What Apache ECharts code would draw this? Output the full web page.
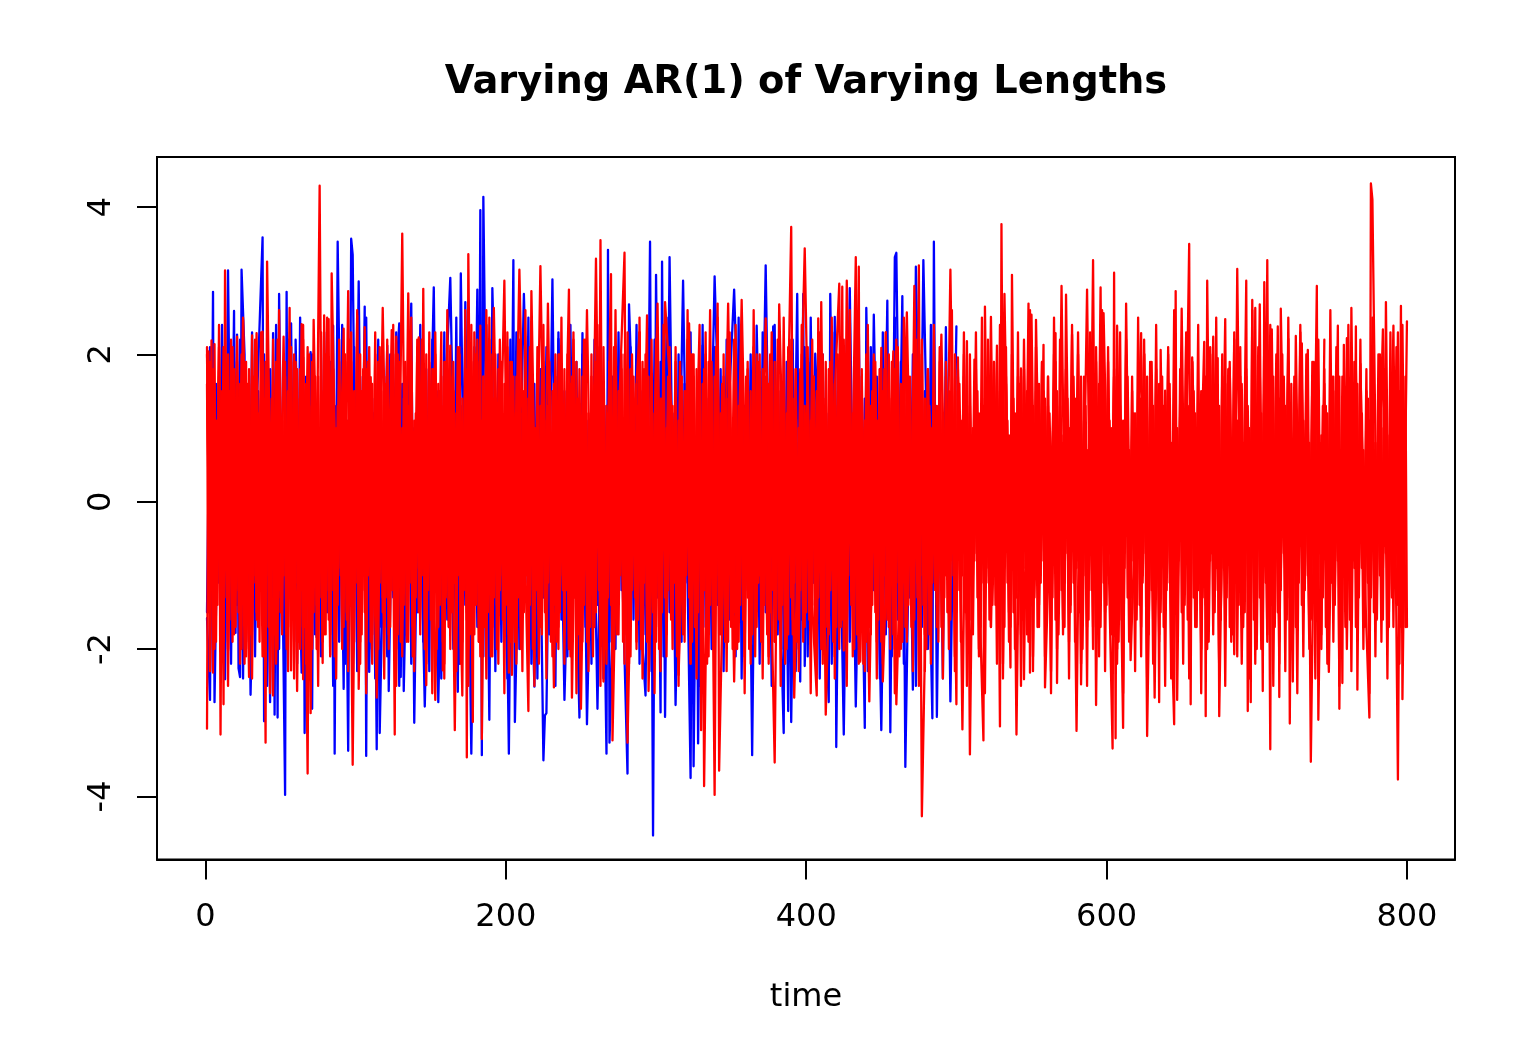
<!DOCTYPE html>
<html><head><meta charset="utf-8">
<script src="https://cdn.jsdelivr.net/npm/echarts@6/dist/echarts.min.js"></script>
<style>html,body{margin:0;padding:0;background:#fff}#c{width:1536px;height:1056px}</style>
</head><body><div id="c"></div>
<script>
const titleText = "Varying AR(1) of Varying Lengths";
const xName = "time";
const xTicks = [0,200,400,600,800];
const yTicks = [-4,-2,0,2,4];

// swings of the blue series, [time, value]
const bluePeaks = [[1,-1.58],[3,-2.69],[5,2.85],[6,-2.72],[9,1.1],[13,-2.41],[15,3.14],[17,-0.6],[19,2.59],[20,-1.78],[21,2.27],[22,-2.26],[23,-2.38],[24,3.15],[26,2.00],[27,-1.90],[28,1.0],[30,-2.62],[34,1.2],[38,3.59],[39,-2.98],[41,0.8],[43,-2.72],[45,2.29],[46,-2.89],[47,0.6],[48,-2.93],[49,2.82],[53,-3.98],[54,2.85],[55,-0.9],[57,2.42],[59,-1.90],[60,2.20],[64,-2.32],[65,1.96],[66,-3.14],[68,1.3],[70,2.03],[71,-2.81],[72,0.9],[74,-1.84],[78,1.2],[81,-1.0],[85,2.39],[86,-3.42],[88,3.53],[92,-2.54],[93,0.7],[95,-3.38],[97,3.57],[98,3.35],[100,-0.4],[102,2.99],[104,-0.8],[106,2.65],[107,-3.45],[108,0.5],[109,-2.31],[112,1.2],[114,-3.36],[115,0.3],[116,-3.14],[121,2.12],[122,-2.57],[125,1.0],[129,2.42],[130,-2.38],[131,0.2],[132,-2.57],[137,2.69],[139,-3.00],[142,1.3],[146,-2.78],[152,2.91],[155,-2.72],[159,1.1],[163,3.04],[168,-2.58],[170,3.10],[172,0.1],[173,2.71],[177,-3.42],[181,2.88],[182,-0.2],[183,3.96],[184,-3.44],[185,4.14],[189,-2.96],[191,2.90],[196,-1.3],[199,1.1],[202,-3.42],[205,3.28],[206,-2.99],[212,2.82],[219,-2.51],[222,0.9],[225,-3.51],[226,-2.9],[227,-2.87],[231,3.02],[233,-0.6],[235,2.21],[239,-2.69],[244,1.2],[249,-2.93],[251,2.29],[254,-3.02],[258,0.8],[261,-2.81],[264,0.9],[267,-3.42],[268,3.42],[269,-3.27],[275,1.1],[281,-3.69],[282,2.68],[288,-1.0],[293,-2.63],[296,3.53],[298,-4.53],[300,3.08],[303,-2.86],[304,3.26],[306,-2.92],[309,3.32],[313,-2.76],[318,3.00],[323,-3.75],[324,0.4],[325,-3.59],[327,0.2],[328,-3.28],[331,2.12],[335,-1.0],[339,3.06],[345,-1.3],[348,1.1],[352,2.88],[358,-1.2],[362,0.4],[364,-3.44],[367,2.39],[370,-0.6],[373,3.21],[376,-0.8],[378,2.38],[385,-3.14],[386,0.6],[388,-2.84],[389,0.3],[390,-2.99],[394,2.82],[396,-2.44],[398,2.82],[399,-2.23],[403,1.89],[404,-0.6],[406,2.01],[415,-2.72],[416,2.82],[418,-0.3],[419,2.51],[420,-3.33],[422,0.4],[425,-3.16],[429,2.90],[433,-2.78],[436,0.5],[439,-3.07],[440,2.63],[443,-0.9],[445,2.54],[450,-3.10],[454,2.73],[456,-3.13],[459,3.32],[460,3.38],[462,0.2],[464,2.79],[466,-3.60],[467,-3.60],[469,0.3],[471,-2.55],[473,3.19],[476,-0.1],[478,3.28],[484,-2.94],[485,3.53],[487,-2.92],[489,0.4],[491,-2.40],[493,2.37],[496,-2.71],[500,2.38]];

// swings of the red series, [time, value]
const redPeaks = [[1,-3.08],[2,2.04],[3,-0.5],[4,2.19],[5,-2.32],[6,2.14],[7,-1.0],[9,1.78],[10,-3.16],[11,0.4],[12,-2.75],[13,3.14],[15,-2.02],[18,2.10],[19,-0.8],[21,2.24],[23,-0.9],[25,2.47],[29,-2.38],[31,2.26],[32,-1.1],[34,2.29],[36,-0.6],[38,2.31],[40,-3.27],[41,3.26],[45,-2.63],[47,1.33],[49,-1.2],[52,2.24],[54,-0.7],[56,2.63],[57,-2.29],[59,0.6],[61,-2.57],[64,2.41],[65,-2.41],[66,0.2],[68,-3.69],[69,0.3],[70,-2.87],[72,2.47],[74,0.2],[76,4.29],[78,-2.19],[79,2.53],[81,-0.6],[82,2.48],[83,-2.08],[84,3.10],[88,-1.1],[92,2.35],[93,-0.5],[95,2.86],[98,-3.57],[101,2.53],[102,-2.54],[106,2.37],[108,-1.0],[110,1.69],[114,-2.66],[118,2.63],[121,-0.8],[124,2.33],[126,-3.16],[127,2.24],[129,0.1],[131,3.64],[133,-0.6],[135,2.83],[138,-1.2],[142,2.23],[144,-0.4],[145,2.89],[147,-2.49],[149,1.89],[153,-2.69],[157,2.30],[158,-2.29],[163,2.12],[166,-3.10],[168,0.7],[171,-2.63],[173,2.60],[174,-3.47],[175,3.36],[178,-2.99],[179,2.30],[181,-0.7],[183,2.39],[184,-3.22],[187,2.60],[189,-1.0],[192,2.63],[195,-0.9],[199,3.00],[202,-2.32],[203,0.5],[204,-2.35],[209,3.15],[215,-2.84],[217,2.86],[220,-0.7],[223,3.20],[226,-0.5],[228,2.69],[232,-2.52],[235,1.1],[238,-1.2],[242,2.88],[244,-2.66],[247,1.2],[250,-2.81],[254,2.60],[257,-1.0],[260,3.30],[262,0.1],[263,3.55],[265,-2.44],[270,3.09],[271,-3.24],[275,1.0],[279,3.38],[281,-3.27],[285,0.9],[289,2.30],[291,-1.0],[294,2.53],[295,-2.57],[301,2.69],[303,-0.8],[306,2.71],[311,1.0],[315,-2.35],[322,2.42],[325,-0.9],[329,2.40],[330,-3.10],[331,0.2],[332,-3.86],[336,2.60],[339,-3.98],[341,2.69],[342,-3.65],[345,-0.6],[348,2.69],[352,-2.44],[357,2.74],[361,-1.3],[365,1.6],[369,-1.0],[373,2.49],[379,-3.54],[382,2.68],[386,-0.8],[390,3.73],[392,-2.66],[399,3.44],[403,-1.0],[407,-2.63],[408,2.49],[409,-0.4],[410,2.71],[413,-2.89],[418,1.0],[422,2.96],[423,-0.1],[424,2.92],[425,-2.02],[427,3.00],[430,-0.5],[433,3.32],[434,0.4],[435,3.19],[436,-2.17],[439,1.1],[442,-2.71],[446,1.90],[448,-0.8],[450,2.09],[451,-2.44],[458,2.04],[460,-2.75],[467,2.57],[470,-0.7],[472,2.93],[474,0.3],[475,3.21],[477,-4.27],[482,1.3],[486,-1.2],[490,2.27],[493,-1.0],[496,3.15],[500,-2.75],[501,1.96],[504,-3.09],[507,2.18],[509,-3.43],[512,1.93],[515,-1.0],[518,-3.24],[519,2.65],[521,-0.6],[523,2.51],[525,-0.8],[527,2.12],[529,-3.05],[530,3.77],[531,0.4],[532,2.82],[536,-2.25],[537,3.08],[540,-3.16],[543,1.81],[545,-2.41],[548,2.69],[549,-2.32],[550,2.54],[552,-0.6],[553,2.47],[556,-1.1],[558,2.13],[559,-2.52],[566,2.29],[567,-2.46],[570,2.93],[572,-0.3],[573,2.81],[575,-0.4],[577,2.27],[580,-3.11],[582,0.5],[583,-2.48],[587,2.88],[589,-0.5],[591,3.28],[593,-2.76],[596,2.91],[597,0.2],[598,2.56],[604,-3.35],[605,3.11],[606,-3.21],[607,2.39],[611,-3.07],[613,2.69],[616,-2.15],[623,2.29],[624,-0.6],[625,2.01],[627,-3.18],[630,0.9],[632,-2.66],[634,0.7],[635,-2.72],[636,2.06],[638,-0.9],[639,1.51],[645,-3.02],[646,2.86],[647,-2.69],[650,2.62],[652,-0.7],[655,3.50],[656,-2.75],[657,1.96],[661,-1.2],[665,2.17],[666,-2.91],[667,3.00],[669,-0.8],[671,2.24],[673,-0.9],[674,1.95],[675,-2.91],[679,2.48],[680,-0.8],[682,1.82],[685,-2.07],[687,3.16],[690,-2.20],[693,3.00],[694,-2.84],[695,0.6],[696,-2.72],[697,2.74],[698,-0.4],[699,2.63],[700,-0.9],[702,2.68],[704,-2.57],[705,2.98],[706,0.1],[707,3.28],[709,-3.36],[710,2.34],[712,-1.1],[714,2.38],[715,-2.65],[716,2.62],[719,-1.0],[721,2.21],[722,-3.01],[723,0.3],[724,-2.44],[726,2.25],[728,-0.7],[730,2.15],[732,-1.2],[734,2.06],[736,-3.53],[740,2.93],[741,-2.96],[744,1.3],[748,-2.31],[751,1.70],[752,-0.8],[754,2.39],[755,-2.81],[756,0.2],[757,-2.46],[758,2.13],[759,-0.5],[760,2.22],[762,-1.0],[763,2.63],[765,-0.9],[766,2.38],[767,-2.55],[769,1.87],[772,-1.1],[775,-2.93],[776,4.32],[777,4.10],[780,-0.8],[784,2.34],[785,-0.6],[786,2.71],[788,-1.2],[791,2.39],[794,-3.77],[796,2.66],[797,-2.68],[800,2.45]];

// blue, every second time step from 1
const blueDense = [-1.5,2.1,-2.3,1.6,-1.1,2.4,-1.9,0.8,-2.2,1.9,-1.4,2.2,-2.4,1.2,-1.7,2.3,-2.1,1.5,-0.9,2.0,-2.5,1.8,-1.3,2.4,-2.0,0.7,-2.3,2.2,-1.6,1.4,-2.2,2.5,-1.2,1.7,-2.4,2.0,-1.8,0.9,-2.1,2.3,-1.5,1.9,-2.5,1.3,-1.9,2.4,-2.2,1.1,-1.4,2.1,-2.3,1.7,-1.0,2.5,-2.0,1.4,-2.4,2.2,-1.7,0.6,-2.1,2.0,-1.3,2.3,-2.5,1.6,-1.8,2.1,-2.2,1.0,-1.5,2.4,-1.9,1.8,-2.3,2.2,-1.1,1.5,-2.4,2.3,-1.6,0.8,-2.0,2.5,-2.2,1.3,-1.4,1.9,-2.5,2.1,-1.7,1.2,-2.1,2.4,-1.2,1.7,-2.3,2.0,-1.9,0.9,-2.4,2.2,-1.5,2.3,-2.0,1.4,-1.1,2.5,-2.2,1.6,-2.4,1.8,-1.3,2.1,-1.8,0.7,-2.5,2.3,-1.6,1.5,-2.1,2.4,-1.0,1.9,-2.3,2.0,-1.7,1.1,-2.2,2.2,-1.4,2.5,-2.4,1.3,-1.9,1.7,-2.0,2.3,-1.2,0.8,-2.5,2.1,-1.6,2.4,-2.2,1.5,-1.8,1.0,-2.3,2.2,-1.3,1.9,-2.1,2.5,-1.5,1.2,-2.4,2.0,-1.9,1.6,-1.1,2.3,-2.2,0.9,-2.5,2.4,-1.7,1.4,-2.0,2.1,-1.4,1.8,-2.3,2.2,-1.6,0.7,-2.1,2.5,-2.4,1.3,-1.2,2.0,-1.9,1.7,-2.2,2.3,-1.5,1.1,-2.5,2.4,-1.8,1.5,-2.0,1.9,-1.3,2.2,-2.3,0.8,-1.6,2.1,-2.1,2.5,-1.1,1.6,-2.4,2.0,-1.7,1.2,-2.2,2.3,-1.4,1.8,-2.5,2.2,-1.9,0.9,-2.0,2.4,-1.5,1.4,-2.3,2.1,-1.2,1.7,-2.4,2.3,-1.8,1.0,-2.1,2.5,-1.6,1.9,-2.2,1.3,-1.3,2.0,-2.5,2.2,-1.7,1.5,-2.0,2.4,-1.1];

// red, every second time step from 1 to 799
const redDenseA = [2.0,-1.7,1.5,-0.9,2.1,-1.4,1.2,-2.0,1.7,-1.1,1.9,-1.6,0.8,-2.1,1.6,-1.3,2.2,-0.7,1.4,-1.9,1.8,-1.5,1.1,-2.2,2.0,-1.0,1.5,-1.7,1.9,-1.2,0.9,-2.0,2.2,-1.6,1.3,-1.1,1.7,-2.1,1.5,-0.8,2.1,-1.8,1.0,-1.4,1.9,-2.0,1.6,-1.2,2.3,-0.9,1.2,-1.9,1.8,-1.5,0.7,-2.2,2.0,-1.3,1.5,-1.7,2.2,-1.0,1.1,-2.0,1.7,-1.6,1.9,-0.7,1.4,-2.1,2.1,-1.2,0.9,-1.8,1.6,-1.5,2.3,-1.1,1.3,-2.2,1.8,-0.9,1.5,-1.7,2.0,-1.4,1.0,-2.0,1.9,-1.2,1.6,-1.9,0.8,-1.3,2.2,-2.1,1.4,-0.8,1.7,-1.6,2.1,-1.1,1.2,-2.2,1.5,-1.5,1.9,-0.9,2.3,-1.8,1.1,-1.3,1.8,-2.0,1.4,-1.0,2.0,-1.7,0.7,-1.5,1.6,-2.1,2.2,-1.2,1.3,-0.8,1.9,-1.9,1.5,-1.4,2.1,-1.0,0.9,-2.2,1.7,-1.6,1.2,-1.1,2.0,-1.8,1.8,-0.7,1.4,-2.0,2.3,-1.3,1.0,-1.5,1.6,-1.9,1.9,-1.2,0.8,-2.1,2.1,-0.9,1.5,-1.7,1.3,-1.4,2.2,-2.2,1.7,-1.1,1.1,-1.6,2.0,-0.8,1.4,-2.0,1.8,-1.3,0.9,-1.8,2.3,-1.5,1.6,-1.0,1.2,-2.1,1.9,-1.7,2.1,-0.9,1.5,-1.2,0.7,-2.2,1.7,-1.9,2.2,-1.4,1.3,-0.7,1.8,-1.6,1.0,-2.0,2.0,-1.1,1.6,-1.5,1.1,-1.8,2.1,-1.2,1.4,-0.8,1.9,-2.1,0.9,-1.4,2.2,-1.7,1.2,-0.9,1.7,-2.2,1.5,-1.3,2.0,-1.0,0.8,-1.9,1.8,-1.6,2.3,-0.7,1.1,-2.0,1.6,-1.2,1.9,-1.5,1.4,-1.8,0.7,-1.1,2.2,-2.3,1.7,-0.9,1.3,-1.4,2.1,-1.9,1.0,-1.2,1.5,-2.1,1.8,-0.8,2.0,-1.6,1.2,-1.0,2.3,-2.0,0.9,-1.3,1.6,-1.7,1.9,-0.7,1.4,-2.2,2.1,-1.5,1.1,-1.1,1.7,-1.8,2.2,-0.9,0.8,-2.1,1.5,-1.4,1.9,-1.2,1.3,-2.3,2.0,-1.0,1.0,-1.6,1.8,-1.9,1.6,-0.8,2.3,-1.3,0.7,-1.7,1.2,-2.0,2.1,-1.1,1.4,-1.5,1.9,-0.7,1.7,-2.2,1.1,-1.8,2.2,-1.2,0.9,-1.4,1.5,-2.1,2.0,-0.9,1.3,-1.6,1.8,-1.9,0.8,-1.0,2.1,-2.4,1.6,-1.3,1.2,-0.8,2.3,-1.7,1.9,-1.1,1.0,-2.0,1.5,-1.5,2.0,-0.7,1.4,-2.3,1.7,-1.2,0.7,-1.8,2.2,-1.4,1.1,-0.9,1.8,-2.1,1.3,-1.6,2.1,-1.0,1.6,-1.9,0.9,-1.3,2.0,-2.2,1.5,-0.8,1.9,-1.7,1.2,-1.1,2.4,-1.5,0.8,-2.0,1.7,-1.2,1.4,-1.8,2.2];

// red, every second time step from 2 to 500
const redDenseB = [-1.3,1.8,-2.0,1.0,-1.6,2.1,-0.8,1.5,-1.9,1.3,-1.2,2.0,-2.2,1.6,-0.9,1.7,-1.5,1.1,-2.1,1.9,-1.0,1.4,-1.8,2.2,-1.3,0.8,-2.0,1.6,-1.1,1.9,-1.7,1.2,-0.8,2.1,-2.2,1.5,-1.4,1.0,-1.9,2.0,-1.2,1.7,-2.1,1.3,-0.9,1.8,-1.6,2.2,-1.1,0.9,-2.0,1.5,-1.5,1.9,-0.7,1.1,-2.2,2.1,-1.3,1.6,-1.8,0.8,-1.0,2.0,-1.9,1.4,-1.4,1.7,-2.1,1.2,-0.9,2.2,-1.6,1.0,-1.2,1.8,-2.0,1.5,-0.8,1.9,-1.7,1.3,-1.1,2.1,-2.2,0.9,-1.5,1.6,-1.3,2.0,-1.9,1.1,-0.7,1.7,-2.1,1.4,-1.4,2.2,-1.0,0.8,-1.8,1.9,-1.6,1.2,-2.0,1.5,-0.9,2.1,-1.2,1.0,-2.2,1.8,-1.5,1.3,-1.1,1.6,-1.9,2.0,-0.8,0.9,-2.0,1.7,-1.3,1.4,-1.7,2.2,-1.0,1.1,-2.1,1.9,-0.7,1.5,-1.6,1.2,-1.4,2.1,-1.8,0.8,-1.1,1.6,-2.2,2.0,-1.2,1.3,-0.9,1.8,-1.9,1.0,-1.5,2.2,-2.0,1.4,-0.8,1.7,-1.3,0.9,-2.1,1.9,-1.6,1.5,-1.0,2.0,-1.7,1.1,-1.2,1.8,-2.2,1.2,-0.7,2.1,-1.4,1.6,-1.9,0.8,-1.1,2.2,-2.0,1.3,-1.5,1.7,-0.9,1.0,-2.1,1.9,-1.3,1.4,-1.8,2.0,-0.8,1.1,-1.6,1.5,-2.2,2.1,-1.0,0.9,-1.4,1.8,-1.9,1.2,-1.2,2.2,-2.1,1.6,-0.7,1.3,-1.7,1.9,-1.1,0.8,-2.0,1.7,-1.5,2.1,-0.9,1.0,-1.8,1.4,-2.2,2.0,-1.3,1.5,-1.0,1.1,-1.9,1.8,-1.6,0.9,-0.8,2.2,-2.1,1.3,-1.2,1.6,-1.7,2.1,-1.1];

// red, every second time step from 500 to 800
const redDenseC = [-1.5,1.6,-1.0,1.2,-1.8,0.9,-0.7,1.5,-2.0,1.3,-1.1,1.7,-1.4,0.7,-1.6,1.9,-0.9,1.1,-1.7,1.4,-1.2,1.6,-0.8,1.0,-1.9,1.8,-1.3,0.8,-1.0,1.5,-1.6,1.2,-0.7,1.9,-1.8,0.9,-1.1,1.4,-1.5,1.7,-0.9,1.0,-2.0,1.3,-1.2,1.6,-0.8,0.7,-1.7,1.8,-1.0,1.1,-1.4,1.5,-1.9,0.9,-0.7,1.7,-1.3,1.2,-1.6,1.4,-1.1,0.8,-1.8,1.9,-0.9,1.0,-1.5,1.3,-1.2,1.6,-2.0,0.7,-0.8,1.8,-1.4,1.1,-1.7,1.5,-1.0,0.9,-1.3,1.7,-1.9,1.2,-0.7,1.4,-1.6,1.0,-1.1,1.9,-1.8,0.8,-0.9,1.6,-1.2,1.3,-1.5,1.1,-2.0,1.8,-0.8,0.7,-1.4,1.5,-1.7,1.2,-1.0,1.7,-1.3,0.9,-1.9,1.4,-0.7,1.6,-1.1,1.0,-1.6,1.9,-1.5,0.8,-0.9,1.3,-1.8,1.7,-1.2,1.1,-1.4,1.5,-2.0,0.9,-0.8,1.8,-1.0,1.2,-1.7,1.4,-1.3,0.7,-1.6,2.0,-0.9,1.0,-1.5,1.6,-1.1,2.3,-1.7];

// red, every second time step from 1 to 799: the thinning edge of the band, 20 values a row
const redFringe = [
2.1,-2.3,1.8,-1.9,2.4,-1.7,1.9,-2.5,2.2,-1.8,1.7,-2.2,2.5,-2.0,1.8,-2.4,2.0,-1.7,2.3,-2.1,
1.7,-2.6,2.2,-1.9,2.6,-1.8,1.9,-2.3,2.1,-2.4,1.8,-1.7,2.4,-2.2,2.0,-2.0,1.7,-2.5,2.3,-1.8,
2.5,-2.1,1.8,-2.4,2.2,-1.7,2.0,-2.3,1.9,-1.9,2.6,-2.2,1.7,-2.6,2.1,-1.8,2.3,-2.0,1.8,-2.4,
2.0,-1.7,2.4,-2.5,1.9,-2.1,1.7,-1.9,2.5,-2.3,2.2,-1.8,1.8,-2.2,2.3,-2.6,2.0,-1.7,1.7,-2.4,
2.6,-2.0,1.9,-2.3,2.1,-1.9,1.8,-2.5,2.4,-1.8,2.2,-2.1,1.7,-2.4,2.5,-1.7,2.0,-2.2,1.9,-2.6,
2.3,-1.9,1.7,-2.0,2.2,-2.3,2.6,-1.8,1.8,-2.5,2.1,-1.7,2.4,-2.4,1.9,-2.1,1.7,-2.0,2.5,-2.2,
2.0,-1.8,2.3,-2.6,1.8,-1.9,2.2,-2.3,1.7,-1.7,2.4,-2.5,2.1,-2.0,1.9,-2.4,2.6,-1.8,1.8,-2.2,
2.3,-2.1,1.7,-1.9,2.5,-2.4,2.0,-1.7,2.2,-2.6,1.8,-2.3,2.4,-1.8,1.9,-2.0,2.1,-2.5,1.7,-1.9,
2.6,-2.2,2.0,-2.4,1.8,-1.7,2.3,-2.1,1.9,-2.5,2.5,-1.8,1.7,-2.3,2.2,-2.0,2.4,-1.9,2.1,-2.6,
1.8,-2.2,2.6,-1.7,2.0,-2.4,1.7,-2.1,2.3,-1.9,1.9,-2.5,2.5,-2.0,2.2,-1.8,1.8,-2.3,2.4,-1.7,
2.1,-2.6,1.7,-2.0,2.3,-2.2,1.9,-1.8,2.5,-2.4,2.0,-1.7,1.8,-2.5,2.6,-2.1,2.2,-1.9,1.7,-2.3,
2.4,-1.8,2.0,-2.4,1.8,-2.2,2.3,-1.7,1.9,-2.6,2.1,-2.0,2.5,-1.9,1.7,-2.3,2.2,-2.5,2.0,-1.8,
1.8,-2.2,2.4,-1.7,2.1,-2.4,1.9,-2.0,2.6,-2.3,1.7,-1.9,2.3,-2.5,2.0,-1.8,1.8,-2.1,2.5,-2.6,
2.2,-1.7,1.9,-2.2,2.4,-2.4,1.7,-1.9,2.0,-2.0,2.3,-2.5,1.8,-1.8,2.6,-2.3,2.1,-1.7,1.9,-2.1,
1.7,-2.6,2.5,-2.0,2.2,-1.8,1.8,-2.4,2.4,-1.9,2.0,-2.2,1.7,-2.5,2.3,-1.7,1.9,-2.1,2.6,-2.3,
2.1,-1.8,1.8,-2.0,2.3,-2.6,2.0,-1.9,1.7,-2.3,2.5,-1.7,2.2,-2.4,1.9,-2.2,2.4,-1.8,1.7,-2.5,
2.0,-2.1,2.6,-1.9,1.8,-2.2,2.2,-2.4,1.9,-1.7,2.4,-2.6,1.7,-2.0,2.1,-1.8,2.5,-2.3,2.0,-2.5,
1.8,-1.9,2.3,-2.1,2.1,-1.7,1.7,-2.4,2.6,-2.2,1.9,-2.0,2.2,-1.8,2.4,-2.5,1.8,-1.9,2.0,-2.3,
2.5,-1.7,1.7,-2.6,2.3,-2.1,2.0,-1.8,1.9,-2.4,2.2,-2.0,1.8,-2.2,2.6,-1.9,2.1,-2.5,1.7,-1.7,
2.4,-2.3,1.9,-1.8,2.2,-2.0,1.8,-2.6,2.5,-2.1,2.0,-1.9,1.7,-2.4,2.3,-1.7,2.1,-2.2,2.4,-1.7];

// red, every time step from 1 to 500: the solid middle of the band, 20 values a row
const redCoreEarly = [
1.6,-1.5,1.9,-1.2,1.3,-1.8,1.1,-1.4,1.7,-1.0,1.5,-1.9,1.2,-1.3,2.0,-1.6,1.4,-1.1,1.8,-1.7,
1.0,-1.5,1.6,-2.0,1.3,-1.2,1.9,-1.4,1.1,-1.8,1.7,-1.0,1.5,-1.6,1.2,-1.9,2.0,-1.3,1.4,-1.1,
1.8,-1.7,1.0,-1.4,1.6,-1.2,1.9,-2.0,1.3,-1.5,1.1,-1.0,1.7,-1.8,1.5,-1.3,1.2,-1.6,2.0,-1.1,
1.4,-1.9,1.8,-1.2,1.0,-1.7,1.6,-1.4,1.3,-1.0,1.9,-1.5,1.1,-2.0,1.7,-1.3,1.5,-1.1,1.2,-1.8,
2.0,-1.6,1.4,-1.2,1.8,-1.9,1.0,-1.4,1.6,-1.0,1.3,-1.7,1.9,-1.5,1.1,-1.3,1.7,-2.0,1.5,-1.1,
1.2,-1.6,2.0,-1.8,1.4,-1.2,1.8,-1.0,1.0,-1.9,1.6,-1.4,1.3,-1.7,1.9,-1.1,1.1,-1.5,1.7,-1.3,
1.5,-2.0,1.2,-1.2,2.0,-1.6,1.4,-1.8,1.8,-1.0,1.0,-1.4,1.6,-1.9,1.3,-1.1,1.9,-1.7,1.1,-1.3,
1.7,-1.5,1.5,-1.0,1.2,-2.0,2.0,-1.2,1.4,-1.6,1.8,-1.8,1.0,-1.1,1.6,-1.4,1.3,-1.9,1.9,-1.3,
1.1,-1.7,1.7,-1.5,1.5,-1.1,1.2,-1.0,2.0,-2.0,1.4,-1.2,1.8,-1.6,1.0,-1.8,1.6,-1.3,1.3,-1.4,
1.9,-1.9,1.1,-1.1,1.7,-1.7,1.5,-1.5,1.2,-1.0,2.0,-1.3,1.4,-2.0,1.8,-1.2,1.0,-1.6,1.6,-1.4,
1.3,-1.8,1.9,-1.1,1.1,-1.9,1.7,-1.3,1.5,-1.7,1.2,-1.5,2.0,-1.0,1.4,-1.4,1.8,-2.0,1.0,-1.2,
1.6,-1.6,1.3,-1.8,1.9,-1.3,1.1,-1.1,1.7,-1.9,1.5,-1.4,1.2,-1.7,2.0,-1.5,1.4,-1.0,1.8,-1.2,
1.0,-2.0,1.6,-1.6,1.3,-1.3,1.9,-1.8,1.1,-1.1,1.7,-1.4,1.5,-1.9,1.2,-1.7,2.0,-1.0,1.4,-1.5,
1.8,-1.2,1.0,-1.6,1.6,-2.0,1.3,-1.3,1.9,-1.1,1.1,-1.8,1.7,-1.4,1.5,-1.0,1.2,-1.9,2.0,-1.7,
1.4,-1.5,1.8,-1.2,1.0,-1.3,1.6,-1.6,1.3,-2.0,1.9,-1.1,1.1,-1.4,1.7,-1.8,1.5,-1.0,1.2,-1.9,
2.0,-1.7,1.4,-1.5,1.8,-1.3,1.0,-1.2,1.6,-1.6,1.3,-1.1,1.9,-2.0,1.1,-1.4,1.7,-1.8,1.5,-1.0,
1.2,-1.3,2.0,-1.9,1.4,-1.7,1.8,-1.5,1.0,-1.1,1.6,-1.2,1.3,-1.6,1.9,-1.4,1.1,-2.0,1.7,-1.0,
1.5,-1.8,1.2,-1.3,2.0,-1.1,1.4,-1.9,1.8,-1.7,1.0,-1.5,1.6,-1.2,1.3,-1.4,1.9,-1.6,1.1,-1.0,
1.7,-2.0,1.5,-1.8,1.2,-1.3,2.0,-1.1,1.4,-1.9,1.8,-1.4,1.0,-1.7,1.6,-1.5,1.3,-1.2,1.9,-1.6,
1.1,-1.0,1.7,-1.4,1.5,-2.0,1.2,-1.8,2.0,-1.3,1.4,-1.1,1.8,-1.9,1.0,-1.2,1.6,-1.7,1.3,-1.5,
1.9,-1.6,1.1,-1.4,1.7,-1.0,1.5,-1.3,1.2,-2.0,2.0,-1.8,1.4,-1.1,1.8,-1.2,1.0,-1.9,1.6,-1.7,
1.3,-1.5,1.9,-1.6,1.1,-1.3,1.7,-1.0,1.5,-1.4,1.2,-2.0,2.0,-1.8,1.4,-1.2,1.8,-1.1,1.0,-1.9,
1.6,-1.7,1.3,-1.4,1.9,-1.5,1.1,-1.6,1.7,-1.2,1.5,-1.0,1.2,-1.3,2.0,-2.0,1.4,-1.8,1.8,-1.1,
1.0,-1.2,1.6,-1.9,1.3,-1.7,1.9,-1.4,1.1,-1.5,1.7,-1.6,1.5,-1.3,1.2,-1.0,2.0,-1.4,1.4,-2.0,
1.8,-1.8,1.0,-1.1,1.6,-1.2,1.3,-1.9,1.9,-1.7,1.1,-1.3,1.7,-1.5,1.5,-1.6,1.2,-1.0,2.0,-1.4];

// red, every time step from 501 to 800: the looser middle of the later band, 20 values a row
const redCoreLate = [
1.5,-1.2,1.1,-0.7,1.7,-1.5,0.8,-1.0,1.3,-1.6,1.0,-0.8,1.6,-1.3,1.2,-1.7,0.9,-1.1,1.4,-0.9,
1.1,-1.6,1.7,-1.0,0.7,-1.4,1.3,-0.8,1.5,-1.2,1.0,-1.7,1.6,-1.1,0.9,-0.7,1.4,-1.5,1.2,-1.3,
0.8,-1.0,1.7,-1.6,1.1,-0.9,1.5,-1.2,1.0,-1.4,1.3,-0.7,0.9,-1.7,1.6,-1.1,1.2,-0.8,1.4,-1.5,
1.7,-1.0,0.7,-1.3,1.1,-1.6,1.5,-0.9,1.3,-1.2,0.8,-1.7,1.6,-0.7,1.0,-1.4,1.2,-1.1,1.4,-0.8,
0.9,-1.5,1.7,-1.3,1.1,-1.0,0.7,-1.6,1.5,-1.2,1.3,-0.9,1.0,-1.7,1.6,-0.8,0.8,-1.1,1.2,-1.4,
1.4,-0.7,1.0,-1.5,1.7,-1.2,0.9,-1.0,1.3,-1.6,1.1,-0.9,1.6,-1.3,0.7,-1.7,1.5,-0.8,1.2,-1.1,
0.8,-1.4,1.4,-1.0,1.1,-0.7,1.7,-1.5,1.0,-1.2,1.3,-1.6,0.9,-0.9,1.6,-1.3,1.2,-1.7,0.7,-0.8,
1.5,-1.1,0.8,-1.4,1.7,-1.0,1.0,-0.7,1.4,-1.5,1.1,-1.2,0.9,-1.6,1.3,-0.9,1.6,-1.3,1.2,-1.7,
0.7,-1.1,1.5,-0.8,1.1,-1.4,1.7,-1.0,0.8,-0.7,1.4,-1.5,1.0,-1.2,1.3,-1.6,0.9,-0.9,1.6,-1.3,
1.2,-1.7,0.7,-0.8,1.5,-1.1,1.1,-1.4,1.7,-1.0,0.8,-1.5,1.4,-0.7,1.0,-1.2,1.3,-1.6,0.9,-0.9,
1.6,-1.3,1.2,-1.7,0.7,-1.1,1.5,-0.8,1.1,-1.4,1.7,-1.0,0.8,-1.5,1.4,-1.2,1.0,-0.7,1.3,-1.6,
0.9,-1.3,1.6,-0.9,1.2,-1.7,0.7,-1.1,1.5,-1.4,1.1,-0.8,1.7,-1.0,0.8,-1.5,1.4,-1.2,1.0,-1.6,
1.3,-0.7,0.9,-1.3,1.6,-1.7,1.2,-0.9,0.7,-1.1,1.5,-1.4,1.1,-0.8,1.7,-1.5,0.8,-1.0,1.4,-1.2,
1.0,-1.6,1.3,-0.7,0.9,-1.7,1.6,-1.3,1.2,-0.9,0.7,-1.4,1.5,-1.1,1.1,-0.8,1.7,-1.5,0.8,-1.2,
1.4,-1.0,1.0,-1.6,1.3,-0.7,0.9,-1.7,1.6,-1.3,1.2,-0.9,0.7,-1.4,1.5,-1.1,1.1,-0.8,1.7,-1.7];

const paired = (vals, first) => vals.map((v, i) => [first + 2 * i, v]);
const consecutive = (vals, first) => vals.map((v, i) => [first + i, v]);
const lineSeries = (name, color, data) => ({name, type:'line', data, showSymbol:false, symbol:'none', lineStyle:{color, width:2.3, join:'round', cap:'round'}, silent:true, clip:true});

const font = 'DejaVu Sans';
const chart = echarts.init(document.getElementById('c'), null, {renderer:'canvas'});
chart.setOption({
  animation:false,
  backgroundColor:'#fff',
  title:{text:titleText, left:801, top:59, textAlign:'center', textStyle:{fontFamily:font, fontWeight:'bold', fontSize:38.4, color:'#000'}},
  grid:{left:157, right:81, top:157, bottom:196.5, show:true, borderColor:'#000', borderWidth:2, backgroundColor:'transparent'},
  xAxis:{type:'value', min:-32.3, max:832, name:xName, nameLocation:'middle', nameGap:122,
    nameTextStyle:{fontFamily:font, fontSize:32, color:'#000'},
    splitLine:{show:false}, axisLine:{show:true, onZero:false, lineStyle:{color:'#000', width:2}},
    axisTick:{show:true, length:20, lineStyle:{color:'#000', width:2}, customValues:xTicks},
    axisLabel:{fontFamily:font, fontSize:32, color:'#000', margin:42, customValues:xTicks}},
  yAxis:{type:'value', min:-4.856, max:4.68,
    splitLine:{show:false}, axisLine:{show:true, onZero:false, lineStyle:{color:'#000', width:2}},
    axisTick:{show:true, length:20, lineStyle:{color:'#000', width:2}, customValues:yTicks},
    axisLabel:{fontFamily:font, fontSize:32, color:'#000', margin:39, rotate:90, customValues:yTicks}},
  series:[
    lineSeries('blueDense','#0000ff',paired(blueDense,1)),
    lineSeries('bluePeaks','#0000ff',bluePeaks),
    lineSeries('redPeaks','#ff0000',redPeaks),
    lineSeries('redFringe','#ff0000',paired(redFringe,1)),
    lineSeries('redDenseA','#ff0000',paired(redDenseA,1)),
    lineSeries('redDenseB','#ff0000',paired(redDenseB,2)),
    lineSeries('redDenseC','#ff0000',paired(redDenseC,500)),
    lineSeries('redCoreEarly','#ff0000',consecutive(redCoreEarly,1)),
    lineSeries('redCoreLate','#ff0000',consecutive(redCoreLate,501))
  ]
});
</script></body></html>
